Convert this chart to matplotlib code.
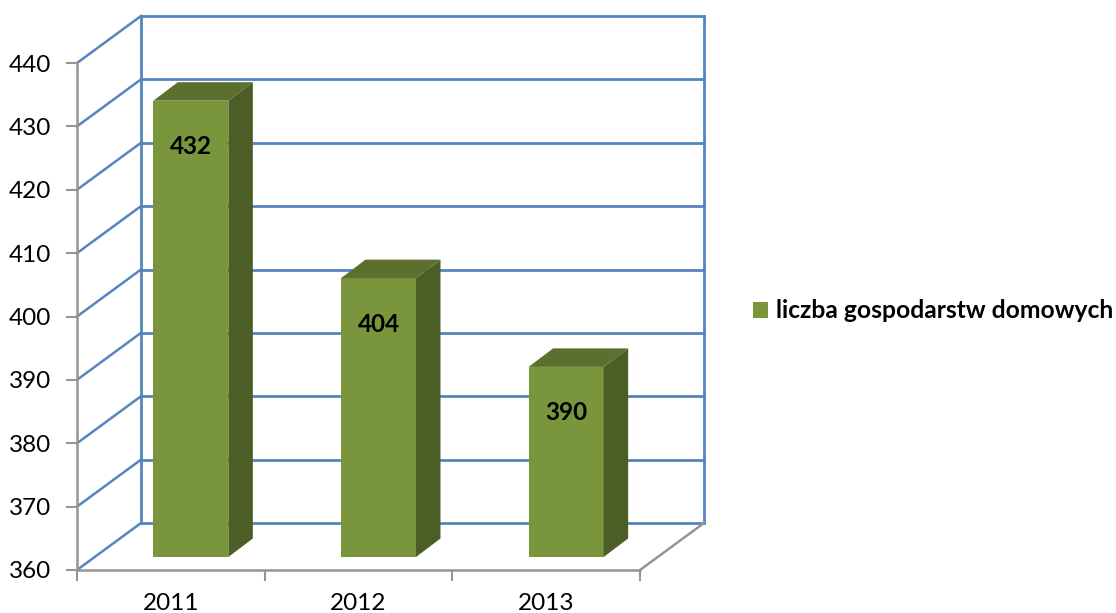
import matplotlib.pyplot as plt
from matplotlib.patches import Patch, Polygon

years = ["2011", "2012", "2013"]
households = [432, 404, 390]
y_ticks = list(range(360, 450, 10))
legend_label = "liczba gospodarstw domowych"

W, H = 1116, 613
BLUE = "#5585bf"
GRAY = "#959595"
FRONT = "#7a963c"
TOP = "#5b6f2e"
SIDE = "#4c5e26"

plt.rcParams["font.family"] = ["Lato", "DejaVu Sans"]
fig = plt.figure(figsize=(W / 100, H / 100), dpi=100)
ax = fig.add_axes([77 / W, 1 - 570 / H, (640 - 77) / W, (570 - 63) / H])
ax.set_xlim(0, 3)
ax.set_ylim(360, 440)
ax.patch.set_visible(False)

# depth of the fake 3d box, in data units
dx = 64 / (563 / 3)
dy = 47 / (507 / 80)

# back wall, floor edge and gridlines
for v in y_ticks:
    ax.plot([dx, 3 + dx], [v + dy, v + dy], color=BLUE, lw=2, clip_on=False, zorder=1)
    ax.plot([0, dx], [v, v + dy], color=BLUE, lw=1.8, clip_on=False, zorder=1)
ax.plot([dx, dx], [360 + dy, 440 + dy], color=BLUE, lw=2, clip_on=False, zorder=1)
ax.plot([3 + dx, 3 + dx], [360 + dy, 440 + dy], color=BLUE, lw=2, clip_on=False, zorder=1)
ax.plot([3, 3 + dx], [360, 360 + dy], color=GRAY, lw=1.8, clip_on=False, zorder=1)

# bars
bar_w = 75 / (563 / 3)
bar_dx = 24.5 / (563 / 3)
bar_dy = 18.5 / (507 / 80)
off_x = 20 / (563 / 3)
off_y = 13 / (507 / 80)
for i, v in enumerate(households):
    x0 = i + 0.5 - bar_w / 2 + off_x
    x1 = x0 + bar_w
    y0 = 360 + off_y
    y1 = v + off_y
    ax.add_patch(Polygon([(x0, y0), (x1, y0), (x1, y1), (x0, y1)], fc=FRONT, ec="none", clip_on=False, zorder=3))
    ax.add_patch(Polygon([(x1, y0), (x1 + bar_dx, y0 + bar_dy), (x1 + bar_dx, y1 + bar_dy), (x1, y1)],
                         fc=SIDE, ec="none", clip_on=False, zorder=3))
    ax.add_patch(Polygon([(x0, y1), (x1, y1), (x1 + bar_dx, y1 + bar_dy), (x0 + bar_dx, y1 + bar_dy)],
                         fc=TOP, ec="none", clip_on=False, zorder=3))
    ax.text((x0 + x1) / 2, v - 5.2, str(v), ha="center", va="center", fontsize=17.5,
            fontweight="bold", color="black", zorder=4)

for s in ["top", "right"]:
    ax.spines[s].set_visible(False)
ax.spines["bottom"].set_color(GRAY)
ax.spines["bottom"].set_linewidth(1.8)
ax.spines["left"].set_color(GRAY)
ax.spines["left"].set_linewidth(1.8)

ax.set_yticks(y_ticks)
ax.set_xticks([0, 1, 2, 3])
ax.set_xticklabels([])
ax.set_xticks([0.5, 1.5, 2.5], labels=years, minor=True)
ax.tick_params(axis="y", length=8, width=1.5, color=GRAY, labelsize=17.5, pad=10.5)
ax.tick_params(axis="x", which="major", length=8, width=1.5, color=GRAY)
ax.tick_params(axis="x", which="minor", length=0, labelsize=17.5, pad=16.5)

ax.legend(handles=[Patch(fc=FRONT, ec="none", label=legend_label)],
          loc="center left", bbox_to_anchor=(753 / W, 1 - 311 / H), bbox_transform=fig.transFigure,
          frameon=False, borderaxespad=0, borderpad=0, handlelength=0.62, handleheight=0.62,
          handletextpad=0.3, prop={"size": 17.7, "weight": "bold"})

fig.savefig("out.png", dpi=100)
